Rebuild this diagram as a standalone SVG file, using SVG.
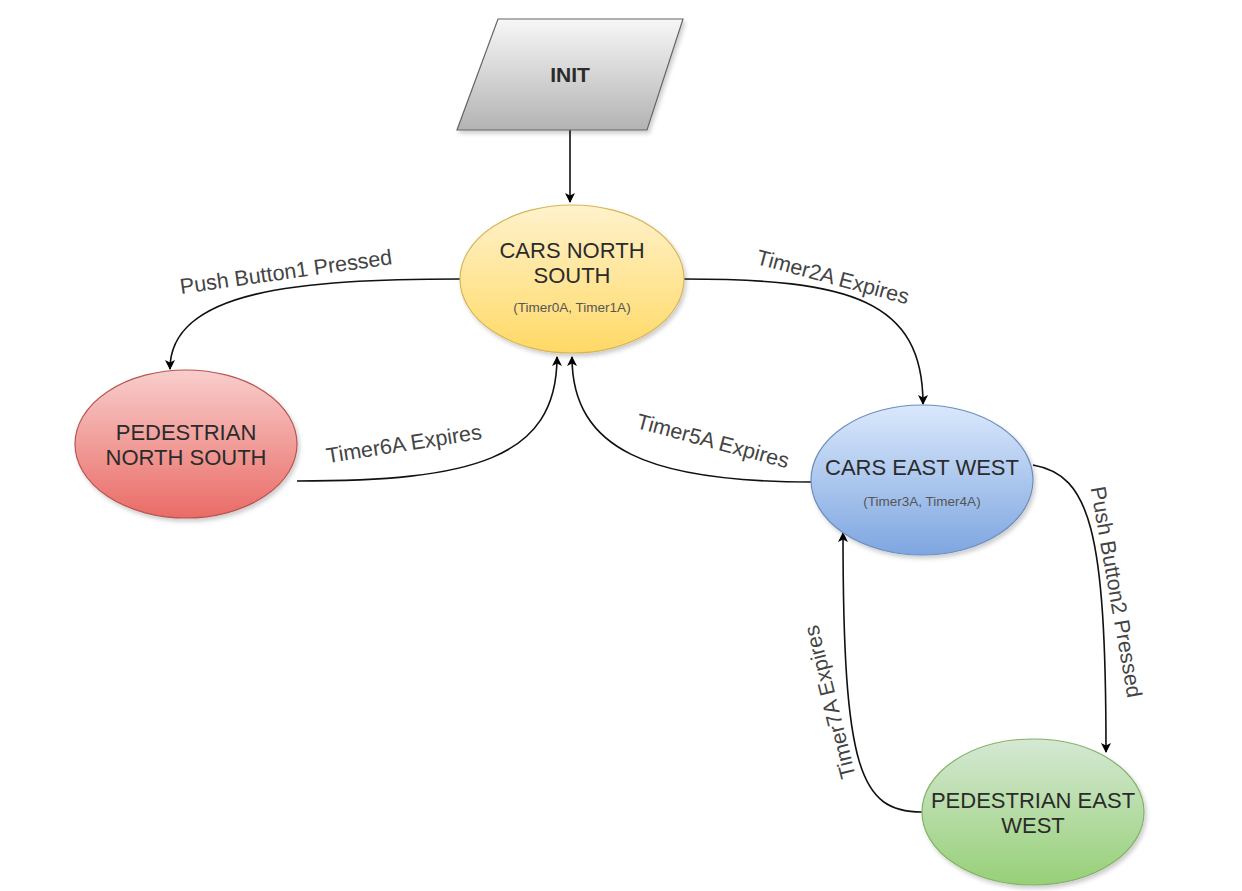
<svg xmlns="http://www.w3.org/2000/svg" width="1242" height="891" viewBox="0 0 1242 891">
<defs>
<linearGradient id="gInit" x1="0" y1="0" x2="0" y2="1"><stop offset="0" stop-color="#f7f7f7"/><stop offset="1" stop-color="#b3b3b3"/></linearGradient>
<linearGradient id="gYel" x1="0" y1="0" x2="0" y2="1"><stop offset="0" stop-color="#fff2cc"/><stop offset="1" stop-color="#ffd966"/></linearGradient>
<linearGradient id="gRed" x1="0" y1="0" x2="0" y2="1"><stop offset="0" stop-color="#f8cecc"/><stop offset="1" stop-color="#ea6b66"/></linearGradient>
<linearGradient id="gBlue" x1="0" y1="0" x2="0" y2="1"><stop offset="0" stop-color="#dae8fc"/><stop offset="1" stop-color="#7ea6e0"/></linearGradient>
<linearGradient id="gGreen" x1="0" y1="0" x2="0" y2="1"><stop offset="0" stop-color="#d5e8d4"/><stop offset="1" stop-color="#97d077"/></linearGradient>
<filter id="sh" x="-10%" y="-10%" width="130%" height="130%"><feDropShadow dx="2" dy="3" stdDeviation="2" flood-color="#000" flood-opacity="0.2"/></filter>
<marker id="arr" viewBox="0 0 10 10" refX="9" refY="5" markerWidth="10" markerHeight="10" markerUnits="userSpaceOnUse" orient="auto"><path d="M0,0 L10,5 L0,10 L2.5,5 Z" fill="#000"/></marker>
</defs>
<style>
.node{stroke-width:1.2;filter:url(#sh)}
.t{font-family:"Liberation Sans",Arial,sans-serif;font-size:22px;text-anchor:middle;fill:#2b2b2b}
.s{font-family:"Liberation Sans",Arial,sans-serif;font-size:13.5px;text-anchor:middle;fill:#555}
.lbl{font-family:"Liberation Sans",Arial,sans-serif;font-size:21.5px;text-anchor:middle;fill:#444}
.e{fill:none;stroke:#111;stroke-width:1.6;marker-end:url(#arr)}
</style>
<rect width="1242" height="891" fill="#fff"/>
<g id="connectors">
<path class="e" d="M570,130 L570,202"/>
<path class="e" d="M460,279 C300,279 170,290 170,369"/>
<path class="e" d="M297,481 C470,481 557,460 557,357"/>
<path class="e" d="M684,279 C850,279 923,300 923,404"/>
<path class="e" d="M812,482 C650,482 572,450 572,357"/>
<path class="e" d="M1033,465 C1090,475 1106,530 1106,752"/>
<path class="e" d="M922,812 C860,812 843,770 843,533"/>
<text class="lbl" transform="translate(287,279) rotate(-8)">Push Button1 Pressed</text>
<text class="lbl" transform="translate(405,451) rotate(-9)">Timer6A Expires</text>
<text class="lbl" transform="translate(831,284) rotate(15)">Timer2A Expires</text>
<text class="lbl" transform="translate(711,448) rotate(15)">Timer5A Expires</text>
<text class="lbl" transform="translate(1116,592) rotate(80)" y="7">Push Button2 Pressed</text>
<text class="lbl" transform="translate(830,702) rotate(-104)" y="7">Timer7A Expires</text>
</g>
<g id="init">
<polygon class="node" points="498,19 683,19 647,130 457,130" fill="url(#gInit)" stroke="#666"/>
<text class="t" x="570" y="82" style="font-weight:bold;font-size:21px">INIT</text>
</g>
<g id="cars-north-south">
<ellipse class="node" cx="572" cy="279" rx="112" ry="74" fill="url(#gYel)" stroke="#d6b656"/>
<text class="t" x="572" y="258">CARS NORTH</text>
<text class="t" x="572" y="283">SOUTH</text>
<text class="s" x="572" y="312">(Timer0A, Timer1A)</text>
</g>
<g id="pedestrian-north-south">
<ellipse class="node" cx="186" cy="444" rx="111" ry="74" fill="url(#gRed)" stroke="#b85450"/>
<text class="t" x="186" y="440">PEDESTRIAN</text>
<text class="t" x="186" y="465">NORTH SOUTH</text>
</g>
<g id="cars-east-west">
<ellipse class="node" cx="922" cy="480" rx="111" ry="75" fill="url(#gBlue)" stroke="#6c8ebf"/>
<text class="t" x="922" y="475">CARS EAST WEST</text>
<text class="s" x="922" y="506">(Timer3A, Timer4A)</text>
</g>
<g id="pedestrian-east-west">
<ellipse class="node" cx="1033" cy="812" rx="111" ry="73" fill="url(#gGreen)" stroke="#82b366"/>
<text class="t" x="1033" y="808">PEDESTRIAN EAST</text>
<text class="t" x="1033" y="833">WEST</text>
</g>
</svg>
